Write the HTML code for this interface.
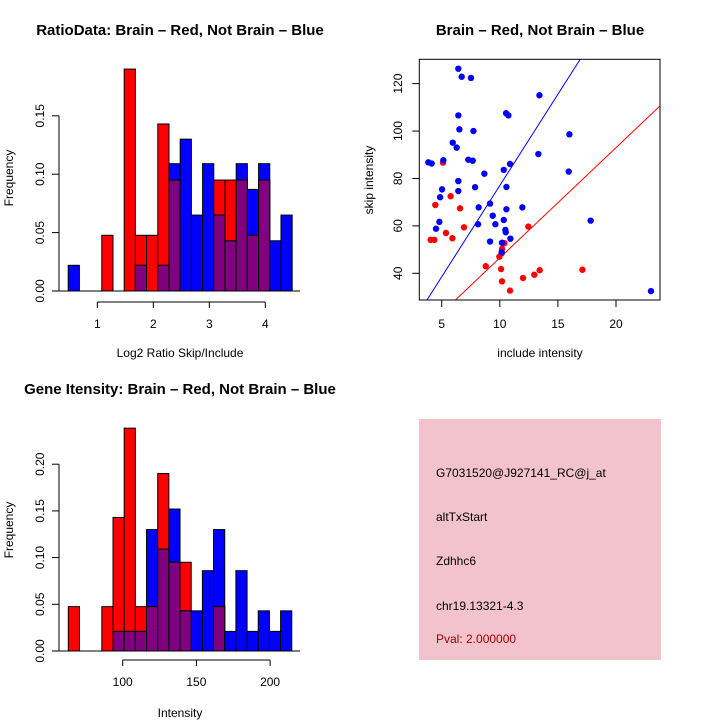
<!DOCTYPE html>
<html><head><meta charset="utf-8"><style>
body{margin:0;background:#fff}
svg{display:block;font-family:"Liberation Sans",sans-serif}
</style></head><body>
<svg id="s" width="720" height="720" viewBox="0 0 720 720">
<rect width="720" height="720" fill="#fff"/>
<text x="180" y="35" text-anchor="middle" font-size="15" font-weight="bold">RatioData: Brain – Red, Not Brain – Blue</text>
<text x="540" y="35" text-anchor="middle" font-size="15" font-weight="bold">Brain – Red, Not Brain – Blue</text>
<text x="180" y="394" text-anchor="middle" font-size="15" font-weight="bold">Gene Itensity: Brain – Red, Not Brain – Blue</text>
<text x="180" y="357" text-anchor="middle" font-size="12">Log2 Ratio Skip/Include</text>
<text x="540" y="357" text-anchor="middle" font-size="12">include intensity</text>
<text x="180" y="717" text-anchor="middle" font-size="12">Intensity</text>
<text transform="translate(13,178) rotate(-90)" text-anchor="middle" font-size="12">Frequency</text>
<text transform="translate(13,530) rotate(-90)" text-anchor="middle" font-size="12">Frequency</text>
<text transform="translate(373,180) rotate(-90)" text-anchor="middle" font-size="12">skip intensity</text>
<g>
<rect x="419" y="419" width="242" height="241" fill="#f2c3cd"/>
<text x="436" y="477" font-size="12">G7031520@J927141_RC@j_at</text>
<text x="436" y="521" font-size="12">altTxStart</text>
<text x="436" y="565" font-size="12">Zdhhc6</text>
<text x="436" y="610" font-size="12">chr19.13321-4.3</text>
<text x="436" y="643" font-size="12" fill="#a00000">Pval: 2.000000</text>
</g>
</svg>
<script>
// Ratio histogram data
const ratioBreakStart = 0.48, ratioBinWidth = 0.2;
const ratioRed  = [0,0,0,0.0477,0,0.19,0.0477,0.0477,0.143,0.095,0,0,0,0.095,0.095,0.095,0.0477,0.095,0,0];
const ratioBlue = [0.022,0,0,0,0,0,0.022,0,0.022,0.109,0.130,0.065,0.109,0.065,0.043,0.109,0.087,0.109,0.043,0.065];
const ratioXTicks = [1,2,3,4];
const ratioYTicks = ["0.00","0.05","0.10","0.15"];
// Intensity histogram data
const intBreakStart = 63.1, intBinWidth = 7.58;
const intRed  = [0.0475,0,0,0.0475,0.143,0.2386,0.0475,0.0475,0.190,0.095,0.095,0,0,0.0475,0,0,0,0,0,0];
const intBlue = [0,0,0,0,0.021,0.021,0.021,0.130,0.109,0.152,0.043,0.043,0.086,0.130,0.021,0.086,0.021,0.043,0.021,0.043];
const intXTicks = [100,150,200];
const intYTicks = ["0.00","0.05","0.10","0.15","0.20"];
// Scatter data
const blueX = [6.43,6.72,7.52,13.41,6.43,10.54,10.74,6.52,7.73,15.99,5.95,6.29,7.29,7.67,3.85,4.14,5.14,10.88,8.67,10.34,6.43,7.87,10.57,6.43,5.03,4.86,9.16,8.18,11.94,10.57,9.39,13.32,10.34,9.62,8.13,4.80,4.51,10.48,10.51,10.91,9.16,10.19,10.16,15.93,17.82,23.01];
const blueY = [126.3,122.9,122.4,115.1,106.6,107.5,106.6,100.7,100.0,98.6,95.1,93.0,87.9,87.5,86.8,86.3,87.7,86.1,82.0,83.6,78.9,76.3,76.4,74.7,75.4,72.1,69.4,67.8,67.8,67.0,64.3,90.3,62.5,60.7,60.7,61.7,58.8,58.3,57.3,54.6,53.4,52.9,48.9,82.9,62.2,32.5];
const redX = [5.11,4.45,5.77,6.58,6.92,5.37,5.92,4.05,4.37,12.46,10.39,10.19,10.16,9.96,8.79,10.11,12.0,12.97,13.43,17.11,10.19,10.88];
const redY = [86.7,68.8,72.5,67.4,59.4,57.0,54.8,54.1,54.1,59.7,52.7,50.3,48.4,47.0,43.0,41.8,38.0,39.4,41.3,41.5,36.6,32.7];
const blueSlope = 7.7, redSlope = 4.65;
const scXTicks = [5,10,15,20];
const scYTicks = [40,60,80,100,120];

const NS="http://www.w3.org/2000/svg", svg=document.getElementById('s');
function mk(tag, attrs, parent){const e=document.createElementNS(NS,tag);for(const k in attrs)e.setAttribute(k,attrs[k]);(parent||svg).appendChild(e);return e;}

function histogram(gname, breakStart, bw, red, blue, xs, ys, base, yPerUnit, xTicks, yTicks, yStep, axisY){
  const g=mk('g',{});
  
  
  const X=v=>xs.x0+(v-xs.v0)*xs.k, Y=v=>base-v*yPerUnit;
  for(let i=0;i<red.length;i++){
    const a=X(breakStart+i*bw), b=X(breakStart+(i+1)*bw);
    const layers=[[red[i],'#ff0000','red-bar'],[blue[i],'#0000ff','blue-bar'],[Math.min(red[i],blue[i]),'#800080','overlap-bar']];
    layers.sort((p,q)=>q[0]-p[0]);
    for(const [v,c,n] of layers){
      if(v<=0) continue;
      const r=mk('rect',{x:a,y:Y(v),width:b-a,height:v*yPerUnit,fill:c,stroke:'#000','stroke-width':1},g);
      
      
    }
  }
  mk('line',{x1:59,x2:300,y1:base,y2:base,stroke:'#000'},g);
  const yMax=(yTicks.length-1)*yStep;
  mk('line',{x1:59,x2:59,y1:base,y2:Y(yMax),stroke:'#000'},g);
  yTicks.forEach((t,i)=>{const y=Y(i*yStep);mk('line',{x1:52,x2:59,y1:y,y2:y,stroke:'#000'},g);
    const tx=mk('text',{transform:`translate(44,${y}) rotate(-90)`,'text-anchor':'middle','font-size':12},g);tx.textContent=t;
    
    });
  mk('line',{x1:X(xTicks[0]),x2:X(xTicks[xTicks.length-1]),y1:axisY,y2:axisY,stroke:'#000'},g);
  xTicks.forEach(t=>{const x=X(t);mk('line',{x1:x,x2:x,y1:axisY,y2:axisY+6,stroke:'#000'},g);
    const tx=mk('text',{x:x,y:axisY+26,'text-anchor':'middle','font-size':12},g);tx.textContent=t;
    
    });
}
histogram('ratio-histogram',ratioBreakStart,ratioBinWidth,ratioRed,ratioBlue,{x0:97.3,v0:1,k:56},null,291,1168,ratioXTicks,ratioYTicks,0.05,302);
histogram('intensity-histogram',intBreakStart,intBinWidth,intRed,intBlue,{x0:122.7,v0:100,k:1.474},null,651,934,intXTicks,intYTicks,0.05,660);

(function(){
  const g=mk('g',{});
  
  
  const L=419.3,R=660,T=59.3,B=300;
  const X=v=>441.7+(v-5)*11.62, Y=v=>273.3-(v-40)*2.371;
  const cp=mk('clipPath',{id:'cp'},g);mk('rect',{x:L,y:T,width:R-L,height:B-T},cp);
  const lg=mk('g',{'clip-path':'url(#cp)'},g);
  const x0=3,x1=24;
  const bl=mk('line',{x1:X(x0),y1:Y(x0*blueSlope),x2:X(x1),y2:Y(x1*blueSlope),stroke:'#0000ff','stroke-width':1},lg);
  
  
  const rl=mk('line',{x1:X(x0),y1:Y(x0*redSlope),x2:X(x1),y2:Y(x1*redSlope),stroke:'#ff0000','stroke-width':1},lg);
  
  
  redX.forEach((v,i)=>{const c=mk('circle',{cx:X(v),cy:Y(redY[i]),r:3.2,fill:'#ff0000'},g);
    
    });
  blueX.forEach((v,i)=>{const c=mk('circle',{cx:X(v),cy:Y(blueY[i]),r:3.2,fill:'#0000ff'},g);
    
    });
  mk('rect',{x:L,y:T,width:R-L,height:B-T,fill:'none',stroke:'#000'},g);
  scXTicks.forEach(t=>{const x=X(t);mk('line',{x1:x,x2:x,y1:B,y2:B+7,stroke:'#000'},g);
    const tx=mk('text',{x:x,y:B+28,'text-anchor':'middle','font-size':12},g);tx.textContent=t;
    
    });
  scYTicks.forEach(t=>{const y=Y(t);mk('line',{x1:L-7,x2:L,y1:y,y2:y,stroke:'#000'},g);
    const tx=mk('text',{transform:`translate(402,${y}) rotate(-90)`,'text-anchor':'middle','font-size':12},g);tx.textContent=t;
    
    });
})();
</script>
</body></html>
